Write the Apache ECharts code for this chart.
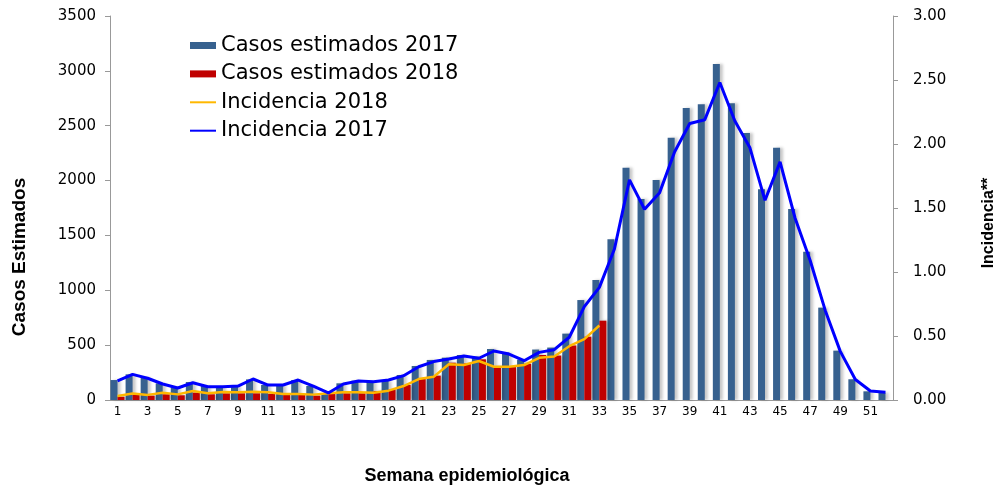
<!DOCTYPE html>
<html>
<head>
<meta charset="utf-8">
<script src="https://cdn.jsdelivr.net/npm/echarts@6/dist/echarts.min.js"></script>
<style>html,body{margin:0;padding:0;background:#fff}#c{width:1003px;height:489px}</style>
</head>
<body>
<div id="c"></div>
<script>
const weeks = Array.from({length: 52}, (_, i) => String(i + 1));
const casos2017 = [182,234,203,152,116,164,128,121,128,188,137,137,182,128,60,152,176,167,176,228,310,365,386,410,395,465,431,368,460,478,605,911,1094,1466,2118,1832,2005,2391,2662,2695,3063,2704,2434,1920,2300,1741,1352,842,450,189,79,67];
const casos2018 = [30,46,40,52,43,67,52,61,61,61,55,46,46,40,55,61,61,82,97,137,191,222,340,334,371,310,300,330,410,405,497,577,723];
const incid2017 = [0.15,0.20,0.17,0.125,0.094,0.135,0.104,0.104,0.109,0.164,0.117,0.117,0.156,0.109,0.055,0.125,0.148,0.143,0.156,0.19,0.26,0.30,0.32,0.344,0.326,0.383,0.359,0.307,0.372,0.393,0.49,0.73,0.88,1.18,1.72,1.49,1.62,1.94,2.16,2.19,2.48,2.18,1.97,1.56,1.86,1.42,1.09,0.70,0.38,0.16,0.07,0.06];
const incid2018 = [0.031,0.05,0.04,0.057,0.044,0.07,0.052,0.062,0.06,0.065,0.06,0.047,0.047,0.042,0.052,0.06,0.06,0.057,0.073,0.109,0.164,0.182,0.279,0.273,0.305,0.26,0.26,0.273,0.33,0.34,0.42,0.475,0.582];
const leftTicks = [0,500,1000,1500,2000,2500,3000,3500];
const rightTicks = [0,0.5,1,1.5,2,2.5,3];

const chart = echarts.init(document.getElementById('c'), null, {renderer: 'canvas'});
const tickFont = 'DejaVu Sans';
const shadow = {shadowColor: 'rgba(0,0,0,0.22)', shadowBlur: 3, shadowOffsetX: 3, shadowOffsetY: 0};
chart.setOption({
  animation: false,
  backgroundColor: '#fff',
  grid: {left: 110, right: 110, top: 16, bottom: 89, containLabel: false},
  legend: {
    orient: 'vertical', left: 184, top: 30, itemWidth: 26, itemHeight: 7, itemGap: 7.4,
    textStyle: {fontFamily: tickFont, fontSize: 21, color: '#000', lineHeight: 20},
    data: [
      {name: 'Casos estimados 2017', icon: 'rect'},
      {name: 'Casos estimados 2018', icon: 'rect'},
      {name: 'Incidencia 2018', itemStyle: {opacity: 0}, lineStyle: {width: 2}},
      {name: 'Incidencia 2017', itemStyle: {opacity: 0}, lineStyle: {width: 2}}
    ]
  },
  xAxis: {
    type: 'category', data: weeks, boundaryGap: true,
    axisLine: {lineStyle: {color: '#999', width: 1}},
    axisTick: {interval: 1, length: 5, lineStyle: {color: '#999'}},
    axisLabel: {interval: 1, color: '#000', fontFamily: tickFont, fontSize: 12, margin: 6}
  },
  yAxis: [
    {
      type: 'value', min: leftTicks[0], max: leftTicks[leftTicks.length - 1], interval: 500,
      splitLine: {show: false},
      axisLine: {show: true, lineStyle: {color: '#999'}},
      axisTick: {show: true, length: 5, lineStyle: {color: '#999'}},
      axisLabel: {color: '#000', fontFamily: tickFont, fontSize: 15, margin: 14, formatter: v => String(v)}
    },
    {
      type: 'value', min: rightTicks[0], max: rightTicks[rightTicks.length - 1], interval: 0.5,
      splitLine: {show: false},
      axisLine: {show: true, lineStyle: {color: '#999'}},
      axisTick: {show: true, length: 5, lineStyle: {color: '#999'}},
      axisLabel: {color: '#000', fontFamily: tickFont, fontSize: 15, margin: 20, formatter: v => v.toFixed(2)}
    }
  ],
  series: [
    {name: 'Casos estimados 2017', type: 'bar', data: casos2017, barWidth: 7, barGap: '0%',
     itemStyle: Object.assign({color: '#37618f'}, shadow)},
    {name: 'Casos estimados 2018', type: 'bar', data: casos2018, barWidth: 7, barGap: '0%',
     itemStyle: Object.assign({color: '#c00000'}, shadow)},
    {name: 'Incidencia 2018', type: 'line', yAxisIndex: 1, data: incid2018, symbol: 'none',
     lineStyle: {color: '#ffb800', width: 2.5}, itemStyle: {color: '#ffb800'}, z: 4},
    {name: 'Incidencia 2017', type: 'line', yAxisIndex: 1, data: incid2017, symbol: 'none',
     lineStyle: {color: '#0000ff', width: 3}, itemStyle: {color: '#0000ff'}, z: 5}
  ],
  graphic: [
    {type: 'text', x: 467, y: 476,
     style: {text: 'Semana epidemiológica', font: 'bold 18px "Liberation Sans", Arial', fill: '#000', align: 'center', verticalAlign: 'middle'}},
    {type: 'text', x: 20, y: 257, rotation: Math.PI / 2,
     style: {text: 'Casos Estimados', font: 'bold 19px "Liberation Sans", Arial', fill: '#000', align: 'center', verticalAlign: 'middle'}},
    {type: 'text', x: 989, y: 223, rotation: Math.PI / 2,
     style: {text: 'Incidencia**', font: 'bold 16px "Liberation Sans", Arial', fill: '#000', align: 'center', verticalAlign: 'middle'}}
  ]
});
</script>
</body>
</html>
